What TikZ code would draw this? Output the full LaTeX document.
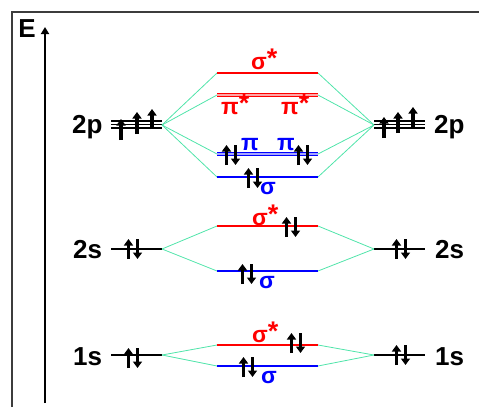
\documentclass[tikz,border=0pt]{standalone}
\usepackage{fontspec}
\setmainfont{Liberation Sans}
\usetikzlibrary{arrows.meta}
\definecolor{conn}{RGB}{80,228,170}
\definecolor{mored}{RGB}{255,0,0}
\definecolor{moblue}{RGB}{0,0,255}
\definecolor{framec}{RGB}{60,60,60}
\tikzset{
  lvl/.style={line width=2.2pt},
  ao/.style={lvl,draw=black},
  bond/.style={lvl,draw=moblue},
  anti/.style={lvl,draw=mored},
  dbond/.style={draw=moblue,double=moblue!35,double distance=1.6pt,line width=1.6pt},
  danti/.style={draw=mored,double=mored!35,double distance=1.6pt,line width=1.6pt},
  link/.style={draw=conn,line width=0.8pt},
  el/.style={line width=3.2pt,-{Triangle[length=6.5pt,width=9pt]}},
  pair/.pic={\draw[el] (-4.5,10) -- (-4.5,-10); \draw[el] (4.5,-10) -- (4.5,10);},
  aolab/.style={font=\bfseries\fontsize{26}{26}\selectfont,inner sep=0pt,anchor=base west},
  mlab/.style={font=\bfseries\fontsize{23}{23}\selectfont,inner sep=0pt,anchor=base west},
}
\newcommand{\starmark}{\raisebox{2pt}{\fontsize{27}{27}\selectfont *}}
\begin{document}
\begin{tikzpicture}[x=1pt,y=-1pt]
\useasboundingbox (0,0) rectangle (479,407);
% frame
\draw[framec,line width=1.6pt] (12,407) -- (12,12) -- (479,12);
% energy axis
\node[font=\bfseries\fontsize{26}{26}\selectfont,inner sep=0pt] (E) at (27,29) {E};
\coordinate (axb) at (45,403);
\coordinate (axt) at (45,27);
\draw[line width=2.6pt,-{Triangle[length=7pt,width=8pt]}] (axb) -- (axt);

% AO 2p left
\foreach \y in {121,124.5,128} \draw[line width=1.5pt] (111,\y) -- (162,\y);
\coordinate (L2p) at (162,125);
\draw[el] (121,140) -- (121,119);
\draw[el] (137,134) -- (137,112);
\draw[el] (152,129) -- (152,109);
% AO 2p right
\foreach \y in {121,124.5,128} \draw[line width=1.5pt] (374,\y) -- (425,\y);
\coordinate (R2p) at (374,125);
\draw[el] (384,138) -- (384,117);
\draw[el] (398,133) -- (398,112);
\draw[el] (413,127) -- (413,107);

% AO 2s / 1s
\coordinate (L2sa) at (111,249); \coordinate (L2s) at (162,249);
\coordinate (R2s) at (374,249); \coordinate (R2sb) at (425,249);
\coordinate (L1sa) at (111,355); \coordinate (L1s) at (162,355);
\coordinate (R1s) at (374,355); \coordinate (R1sb) at (425,355);
\draw[ao] (L2sa) -- (L2s);
\draw[ao] (R2s) -- (R2sb);
\draw[ao] (L1sa) -- (L1s);
\draw[ao] (R1s) -- (R1sb);
\pic at (133,249) {pair};
\pic at (401,249) {pair};
\pic at (133,358) {pair};
\pic at (401,355) {pair};

% MO end points
\coordinate (sa2pL) at (217,73);  \coordinate (sa2pR) at (318,73);
\coordinate (pa2pL) at (217,95);  \coordinate (pa2pR) at (318,95);
\coordinate (pb2pL) at (217,154); \coordinate (pb2pR) at (318,154);
\coordinate (sb2pL) at (217,177); \coordinate (sb2pR) at (318,177);
\coordinate (sa2sL) at (217,226); \coordinate (sa2sR) at (318,226);
\coordinate (sb2sL) at (217,271); \coordinate (sb2sR) at (318,271);
\coordinate (sa1sL) at (217,345); \coordinate (sa1sR) at (318,345);
\coordinate (sb1sL) at (217,366); \coordinate (sb1sR) at (318,366);

% connectors
\foreach \m in {sa2p,pa2p,pb2p,sb2p} {
  \draw[link] (L2p) -- (\m L);
  \draw[link] (R2p) -- (\m R);
}
\foreach \m in {sa2s,sb2s} {
  \draw[link] (L2s) -- (\m L);
  \draw[link] (R2s) -- (\m R);
}
\foreach \m in {sa1s,sb1s} {
  \draw[link] (L1s) -- (\m L);
  \draw[link] (R1s) -- (\m R);
}

% MO levels
\draw[anti] (sa2pL) -- (sa2pR);
\draw[danti] (pa2pL) -- (pa2pR);
\draw[dbond] (pb2pL) -- (pb2pR);
\draw[bond] (sb2pL) -- (sb2pR);
\draw[anti] (sa2sL) -- (sa2sR);
\draw[bond] (sb2sL) -- (sb2sR);
\draw[anti] (sa1sL) -- (sa1sR);
\draw[bond] (sb1sL) -- (sb1sR);

% electrons in MOs
\pic at (231,155) {pair};
\pic at (303,155) {pair};
\pic at (253,178) {pair};
\pic at (291,227) {pair};
\pic at (247,274) {pair};
\pic at (296,343) {pair};
\pic at (248,367) {pair};

% MO labels
\node[mlab,text=mored] (lsa2p) at (251,69) {σ\starmark};
\node[mlab,text=mored] (lpa2pa) at (221,114) {π\starmark};
\node[mlab,text=mored] (lpa2pb) at (281,114) {π\starmark};
\node[mlab,text=moblue] (lpb2pa) at (241,150) {π};
\node[mlab,text=moblue] (lpb2pb) at (277,150) {π};
\node[mlab,text=moblue] (lsb2p) at (260,194) {σ};
\node[mlab,text=mored] (lsa2s) at (252,225) {σ\starmark};
\node[mlab,text=moblue] (lsb2s) at (259,288) {σ};
\node[mlab,text=mored] (lsa1s) at (252,342) {σ\starmark};
\node[mlab,text=moblue] (lsb1s) at (261,383) {σ};

% AO labels
\node[aolab] (l2pL) at (72,133) {2p};
\node[aolab] (l2pR) at (434,133) {2p};
\node[aolab] (l2sL) at (73,258) {2s};
\node[aolab] (l2sR) at (435,258) {2s};
\node[aolab] (l1sL) at (73,365) {1s};
\node[aolab] (l1sR) at (435,365) {1s};
\end{tikzpicture}
\end{document}
